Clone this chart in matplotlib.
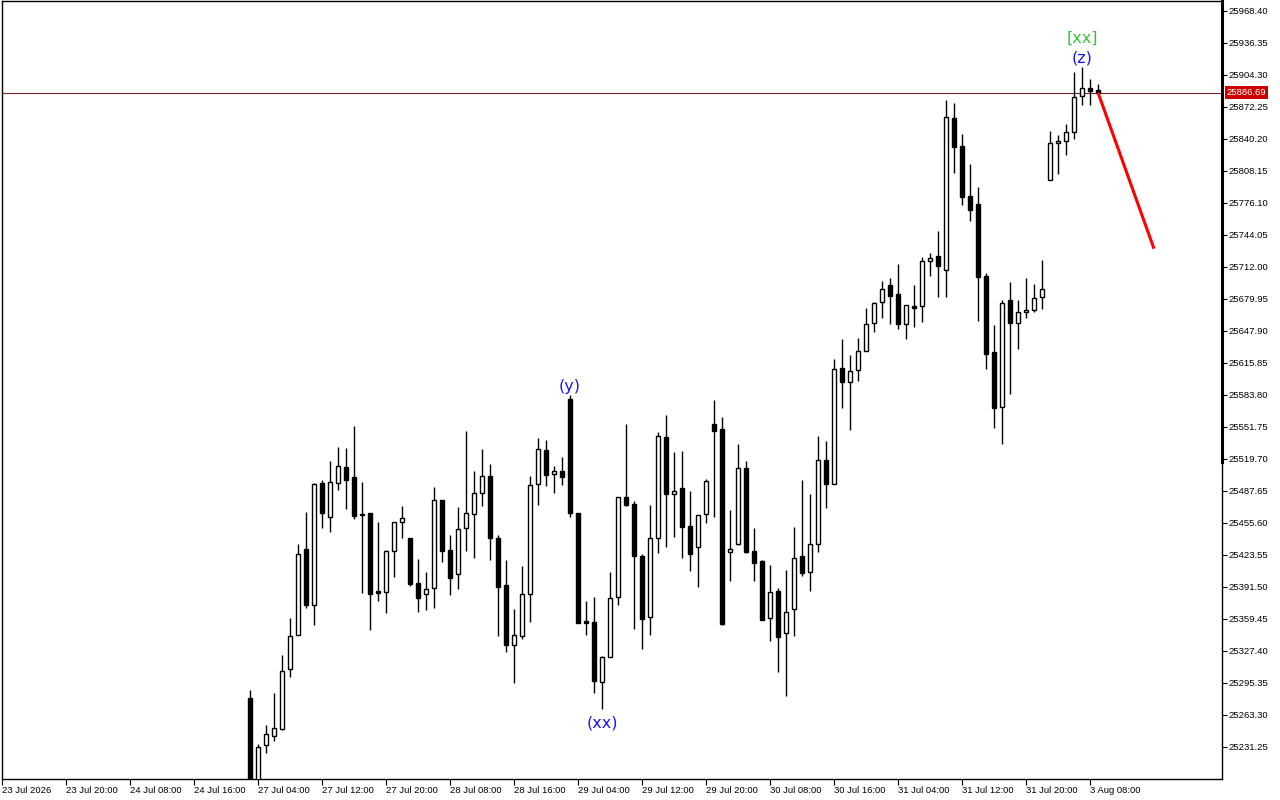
import numpy as np
import matplotlib.pyplot as plt

# H1 candles, bar index 31..137 (index 0 = first time label on the axis)
FIRST_BAR = 31

opens = [
    25280.3, 25188.1, 25233.5, 25242.5, 25249.5, 25309.0, 25343.9, 25429.2, 25373.9, 25495.3,
    25461.9, 25495.3, 25511.7, 25501.6, 25464.6, 25465.6, 25387.0, 25386.7, 25427.2, 25456.3,
    25440.5, 25395.5, 25384.2, 25390.2, 25478.6, 25428.5, 25404.2, 25450.3, 25464.3, 25485.3,
    25502.3, 25440.2, 25393.2, 25333.1, 25342.7, 25384.2, 25494.3, 25528.7, 25504.4, 25507.7,
    25579.8, 25465.3, 25357.0, 25356.3, 25296.1, 25321.1, 25381.2, 25481.3, 25474.6, 25422.8,
    25361.7, 25440.2, 25542.1, 25484.3, 25490.3, 25452.3, 25431.2, 25464.3, 25554.4, 25549.4,
    25426.2, 25434.8, 25510.4, 25427.2, 25417.2, 25360.1, 25387.2, 25345.1, 25369.1, 25422.2,
    25406.2, 25434.2, 25518.4, 25494.3, 25610.5, 25596.5, 25608.5, 25627.5, 25655.6, 25676.6,
    25693.6, 25684.9, 25655.2, 25672.6, 25672.6, 25717.7, 25723.0, 25709.3, 25860.9, 25833.2,
    25783.1, 25775.1, 25703.0, 25626.8, 25572.0, 25678.9, 25655.6, 25666.6, 25668.6, 25681.6,
    25798.7, 25836.6, 25838.6, 25847.6, 25882.9, 25890.9, 25889.0,
]
highs = [
    25288.3, 25234.2, 25253.2, 25285.3, 25323.4, 25360.4, 25434.5, 25466.6, 25495.6, 25498.6,
    25517.7, 25531.7, 25530.7, 25552.7, 25496.6, 25465.6, 25456.6, 25428.5, 25456.6, 25472.6,
    25440.5, 25419.5, 25406.2, 25491.3, 25478.6, 25443.5, 25471.6, 25547.7, 25507.6, 25529.7,
    25514.4, 25443.5, 25418.5, 25369.4, 25412.5, 25502.3, 25540.4, 25538.7, 25512.7, 25521.4,
    25583.8, 25465.6, 25377.6, 25381.4, 25322.4, 25406.5, 25481.6, 25554.7, 25477.3, 25424.5,
    25473.3, 25546.7, 25563.7, 25526.7, 25527.7, 25487.6, 25463.6, 25499.6, 25578.8, 25561.4,
    25468.6, 25534.7, 25517.7, 25450.5, 25418.2, 25413.5, 25390.2, 25408.5, 25451.6, 25498.3,
    25484.6, 25542.4, 25537.7, 25619.5, 25639.6, 25623.8, 25640.9, 25670.6, 25676.9, 25697.9,
    25700.9, 25715.0, 25673.9, 25693.6, 25721.7, 25726.0, 25748.0, 25879.2, 25875.9, 25845.2,
    25815.1, 25792.1, 25705.7, 25653.9, 25678.9, 25696.9, 25678.9, 25700.9, 25694.9, 25719.0,
    25847.9, 25843.9, 25855.6, 25906.9, 25912.0, 25899.9, 25895.0,
]
lows = [
    25168.1, 25178.1, 25225.5, 25237.2, 25248.2, 25301.6, 25343.7, 25370.7, 25353.7, 25450.8,
    25446.8, 25488.6, 25469.8, 25459.9, 25385.7, 25348.7, 25377.6, 25365.6, 25401.7, 25440.8,
    25392.8, 25366.6, 25368.0, 25370.7, 25416.8, 25383.8, 25389.5, 25427.8, 25420.8, 25472.9,
    25418.8, 25342.7, 25326.0, 25295.6, 25339.1, 25356.7, 25473.9, 25492.9, 25485.9, 25493.9,
    25461.9, 25355.7, 25343.4, 25285.2, 25269.0, 25321.1, 25373.7, 25472.9, 25349.1, 25329.1,
    25343.7, 25425.8, 25431.8, 25441.8, 25420.8, 25407.8, 25391.8, 25455.9, 25461.9, 25353.7,
    25397.8, 25433.8, 25425.8, 25397.8, 25358.4, 25337.7, 25306.6, 25282.8, 25342.7, 25402.8,
    25387.8, 25426.8, 25470.9, 25494.3, 25571.0, 25549.0, 25598.1, 25627.5, 25647.2, 25661.1,
    25655.4, 25649.5, 25639.5, 25652.1, 25657.1, 25703.2, 25681.5, 25682.2, 25806.4, 25774.4,
    25758.4, 25658.2, 25609.5, 25550.9, 25534.3, 25584.3, 25629.5, 25661.1, 25667.2, 25670.2,
    25798.7, 25804.7, 25824.6, 25840.6, 25873.9, 25873.9, 25886.3,
]
closes = [
    25178.1, 25231.2, 25243.9, 25249.9, 25307.0, 25342.1, 25424.2, 25373.7, 25494.3, 25465.9,
    25496.3, 25512.4, 25498.9, 25462.6, 25463.3, 25384.7, 25385.7, 25427.2, 25456.3, 25460.3,
    25394.8, 25380.7, 25389.2, 25478.6, 25427.5, 25400.8, 25449.4, 25465.3, 25485.3, 25502.3,
    25440.8, 25391.8, 25333.7, 25343.1, 25384.2, 25493.3, 25529.4, 25504.0, 25507.4, 25502.0,
    25465.9, 25355.7, 25355.7, 25297.8, 25321.4, 25380.2, 25481.3, 25473.9, 25422.8, 25359.7,
    25440.2, 25543.1, 25484.3, 25487.3, 25451.3, 25424.2, 25463.3, 25497.6, 25548.0, 25354.7,
    25429.2, 25510.4, 25426.5, 25415.2, 25358.4, 25386.2, 25341.1, 25366.1, 25420.2, 25405.2,
    25434.2, 25518.4, 25494.3, 25609.5, 25596.5, 25607.5, 25627.5, 25655.0, 25675.9, 25689.6,
    25683.2, 25655.2, 25673.6, 25671.2, 25717.7, 25720.7, 25712.7, 25861.9, 25832.5, 25782.4,
    25769.4, 25702.3, 25625.1, 25571.0, 25675.9, 25656.2, 25666.9, 25668.9, 25680.6, 25689.6,
    25836.6, 25838.6, 25847.6, 25881.9, 25890.9, 25887.9, 25886.69,
]

current_price = 25886.69

# projected move (red line)
proj_x = [137, 144]
proj_y = [25886.69, 25730.3]

# wave labels
wave_text = ["(y)", "(xx)", "(z)", "[xx]"]
wave_x = [71, 75, 135, 135]
wave_y = [25592.8, 25255.2, 25921.3, 25941.3]
wave_color = ["#1414ff", "#1414ff", "#1414ff", "#3cc03c"]

xtick_pos = list(range(0, 137, 8))
xtick_labels = [
    "23 Jul 2026", "23 Jul 20:00", "24 Jul 08:00", "24 Jul 16:00", "27 Jul 04:00",
    "27 Jul 12:00", "27 Jul 20:00", "28 Jul 08:00", "28 Jul 16:00", "29 Jul 04:00",
    "29 Jul 12:00", "29 Jul 20:00", "30 Jul 08:00", "30 Jul 16:00", "31 Jul 04:00",
    "31 Jul 12:00", "31 Jul 20:00", "3 Aug 08:00",
]
ytick_vals = [
    25968.40, 25936.35, 25904.30, 25872.25, 25840.20, 25808.15, 25776.10, 25744.05,
    25712.00, 25679.95, 25647.90, 25615.85, 25583.80, 25551.75, 25519.70, 25487.65,
    25455.60, 25423.55, 25391.50, 25359.45, 25327.40, 25295.35, 25263.30, 25231.25,
]

plt.rcParams["font.family"] = ["Liberation Sans", "DejaVu Sans"]

fig = plt.figure(figsize=(12.8, 8), dpi=100)
ax = fig.add_axes([2 / 1280, 21 / 800, 1220 / 1280, 778 / 800])

o = np.array(opens)
h = np.array(highs)
l = np.array(lows)
c = np.array(closes)
x = np.arange(FIRST_BAR, FIRST_BAR + len(o))

up = c > o
faces = np.where(up, "white", "black")
body_lo = np.minimum(o, c)
body_h = np.maximum(np.abs(c - o), 0.6)

ax.vlines(x, l, h, color="black", linewidth=1.0, zorder=2)
ax.bar(x, body_h, bottom=body_lo, width=0.62, color=faces,
       edgecolor="black", linewidth=1.0, zorder=3)

ax.axhline(current_price, color="#6e2a2a", linewidth=0.8, zorder=1)
ax.plot(proj_x, proj_y, color="#ff0000", linewidth=2.2, zorder=4,
        solid_capstyle="butt")

for txt, wx, wy, col in zip(wave_text, wave_x, wave_y, wave_color):
    ax.text(wx, wy, txt, color=col, fontsize=11.5, ha="center", va="center",
            family="DejaVu Sans", zorder=5)

ax.set_xlim(0, 152.5)
ax.set_ylim(25199.2, 25978.4)

ax.set_xticks(xtick_pos)
ax.set_xticklabels(xtick_labels)
for lbl in ax.get_xticklabels():
    lbl.set_horizontalalignment("left")
ax.tick_params(axis="x", direction="out", length=4.5, width=0.8, pad=0.5,
               labelsize=6.8, colors="black")

ax.yaxis.tick_right()
ax.set_yticks(ytick_vals)
ax.set_yticklabels([f"{v:.2f}" for v in ytick_vals])
ax.tick_params(axis="y", direction="out", length=3.6, width=0.8, pad=0.8,
               labelsize=6.8, colors="black")

for sp in ax.spines.values():
    sp.set_color("black")
    sp.set_linewidth(1.0)

# thicker stretch of the right border
ax.plot([1, 1], [25978.4, 25517.0], transform=ax.get_yaxis_transform(),
        color="black", linewidth=2.2, clip_on=False, zorder=6)

ax.annotate(f"{current_price:.2f}", xy=(1, current_price),
            xycoords=("axes fraction", "data"), xytext=(3.2, 0),
            textcoords="offset points", ha="left", va="center",
            fontsize=6.8, color="white",
            bbox=dict(boxstyle="square,pad=0.18", fc="#cc0000", ec="none"),
            annotation_clip=False, zorder=7)

fig.savefig("out.png", dpi=100)
